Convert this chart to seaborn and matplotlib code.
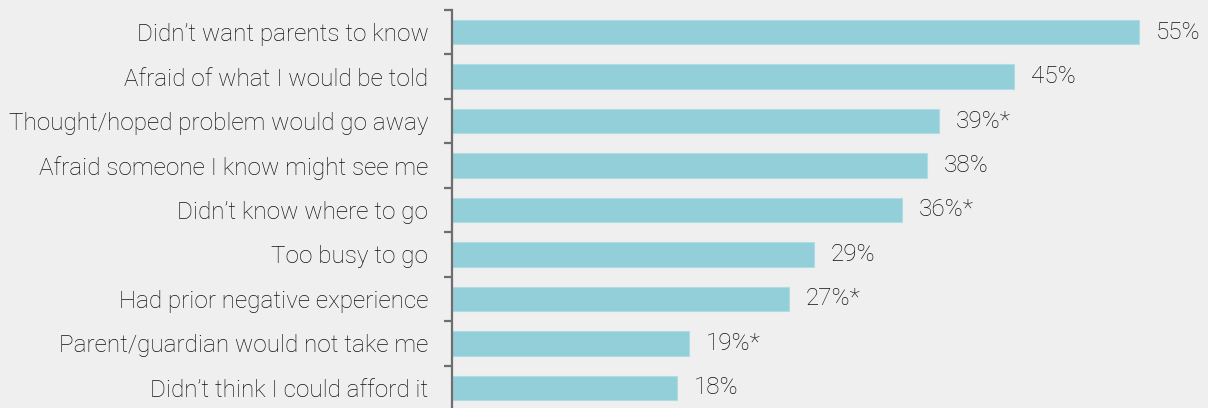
import matplotlib
matplotlib.use("Agg")
import matplotlib.pyplot as plt
import seaborn as sns
import pandas as pd
import numpy as np

# Reasons for not seeking care
reasons = [
    "Didn\u2019t want parents to know",
    "Afraid of what I would be told",
    "Thought/hoped problem would go away",
    "Afraid someone I know might see me",
    "Didn\u2019t know where to go",
    "Too busy to go",
    "Had prior negative experience",
    "Parent/guardian would not take me",
    "Didn\u2019t think I could afford it",
]
percents = [55, 45, 39, 38, 36, 29, 27, 19, 18]
flagged = [False, False, True, False, True, False, True, True, False]

BG = "#efefef"
BAR = "#92cfd9"
TEXT = "#111111"
AXIS = "#6e6e6e"

sns.set_theme(style="white")
plt.rcParams["font.family"] = ["Roboto", "DejaVu Sans"]

df = pd.DataFrame({"reason": reasons, "pct": percents})

fig = plt.figure(figsize=(12.08, 4.08), dpi=100, facecolor=BG)
ax = fig.add_axes([452 / 1208, -2 / 408, 756 / 1208, 400 / 408])
ax.set_facecolor(BG)

sns.barplot(data=df, x="pct", y="reason", orient="h", color=BAR,
            width=0.55, saturation=1, edgecolor="#b0dde4", linewidth=0.8,
            ax=ax)

ax.set_xlim(0, 60.5)
ax.set_ylim(len(reasons) - 0.5, -0.5)
ax.set_xlabel("")
ax.set_ylabel("")
ax.set_xticks([])

for side in ["top", "right", "bottom"]:
    ax.spines[side].set_visible(False)
ax.spines["left"].set_color(AXIS)
ax.spines["left"].set_linewidth(1.6)

FS = 17.5
WEIGHT = "light"
ax.set_yticks(range(len(reasons)))
ax.set_yticklabels(reasons, fontsize=FS, fontweight=WEIGHT, color=TEXT)
ax.tick_params(axis="y", which="major", left=True, length=0, pad=17)
ax.set_yticks(np.arange(-0.5, len(reasons) - 0.5, 1), minor=True)
ax.tick_params(axis="y", which="minor", left=True, length=6, width=1.6,
               color=AXIS, direction="out")

for i, (v, f) in enumerate(zip(percents, flagged)):
    label = f"{v}%" + ("*" if f else "")
    ax.annotate(label, xy=(v, i), xytext=(12, 0), textcoords="offset points",
                va="center", ha="left", fontsize=FS, fontweight=WEIGHT,
                color=TEXT)

fig.savefig("out.png", dpi=100, facecolor=BG)
